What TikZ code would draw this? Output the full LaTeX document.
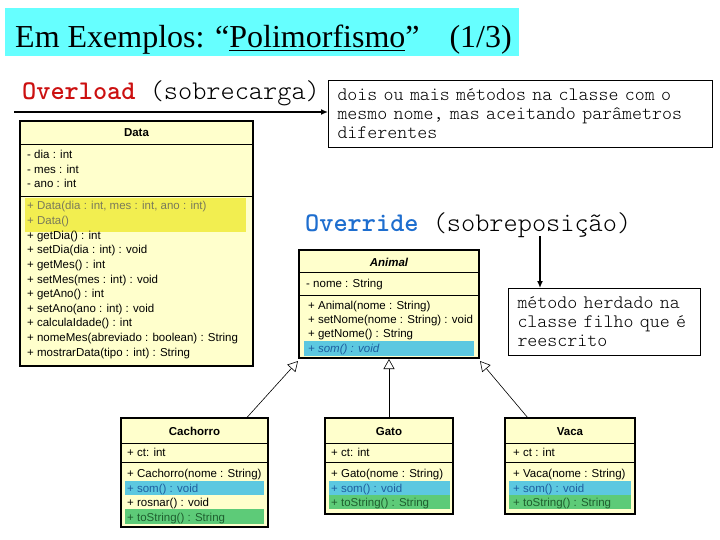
\documentclass[tikz,border=0pt]{standalone}
\usepackage{fontspec}
\setmainfont{Liberation Serif}
\newfontfamily\monof{Latin Modern Mono Light}
\newfontfamily\sansf{Liberation Sans}
\usetikzlibrary{arrows.meta}
\definecolor{titlecyan}{HTML}{66FFFF}
\definecolor{umlfill}{HTML}{FFFFCC}
\definecolor{hlyellow}{HTML}{F2EE50}
\definecolor{hlcyan}{HTML}{5CC8E0}
\definecolor{hlgreen}{HTML}{5DCB78}
\definecolor{ovred}{HTML}{CC1010}
\definecolor{ovblue}{HTML}{1E6ECF}
\definecolor{greytxt}{HTML}{7A7A5A}
\definecolor{bluetxt}{HTML}{1F5F9F}
\definecolor{greentxt}{HTML}{1F5F2F}
\tikzset{
  umlbox/.style={draw, line width=2pt, fill=umlfill, anchor=north west, inner sep=0pt, outer sep=0pt},
  umltxt/.style={anchor=base west, inner sep=0pt, font=\sansf\fontsize{11.5}{13}\selectfont},
  umlhead/.style={anchor=base, inner sep=0pt, font=\sansf\bfseries\fontsize{11.5}{13}\selectfont},
  sepline/.style={line width=0.8pt},
  notebox/.style={draw, line width=1pt, fill=white, anchor=north west, align=left, inner xsep=9pt, inner ysep=0pt, font=\monof\fontsize{19}{19}\selectfont},
  bigmono/.style={anchor=base west, inner sep=0pt, font=\monof\fontsize{27}{29}\selectfont},
  inh/.style={-{Triangle[open, length=10pt, width=11pt]}, line width=0.6pt},
  pointer/.style={-{Latex[length=7pt, width=6pt]}, line width=1.8pt}
}
\begin{document}
\begin{tikzpicture}[x=1pt, y=-1pt]
\useasboundingbox (0,0) rectangle (720,540);
\fill[white] (0,0) rectangle (720,540);

% Title
\node[fill=titlecyan, anchor=north west, minimum width=514pt, minimum height=48pt, inner sep=0pt] (titlebox) at (5,8) {};
\node[anchor=base west, inner sep=0pt, font=\fontsize{32}{35}\selectfont] (title) at (15,48) {Em Exemplos: “\underline{Polimorfismo}”\hspace*{30pt}(1/3)};

% Overload
\node[bigmono] (overload) at (22,100) {\textcolor{ovred}{\bfseries Overload} (sobrecarga)};
\node[notebox, minimum width=384pt, minimum height=67pt, text width=366pt] (note1) at (328,80) {dois ou mais métodos na classe com o\\mesmo nome, mas aceitando parâmetros\\diferentes};
\coordinate (ovstart) at (14,112);
\draw[pointer] (ovstart) -- (ovstart -| note1.west);

% Override
\node[bigmono] (override) at (305,232) {\textcolor{ovblue}{\bfseries Override} (sobreposição)};
\node[notebox, minimum width=192pt, minimum height=67pt, text width=174pt] (note2) at (508,288) {método herdado na\\classe filho que é\\reescrito};
\coordinate (ovrstart) at (540,236);
\draw[pointer] (ovrstart) -- (ovrstart |- note2.north);

% Data class
\node[umlbox, minimum width=233pt, minimum height=245pt] (data) at (20,121) {};
\fill[hlyellow] (25,198) rectangle (246,232);
\draw[sepline] (20,144) -- (253,144);
\draw[sepline] (20,196) -- (253,196);
\node[umlhead] (dataH) at (136.5,137) {Data};
\node[umltxt] (da1) at (27,159) {- dia : int};
\node[umltxt] (da2) at (27,174) {- mes : int};
\node[umltxt] (da3) at (27,188) {- ano : int};
\node[umltxt, text=greytxt] (dm0) at (27,210) {+ Data(dia : int, mes : int, ano : int)};
\node[umltxt, text=greytxt] (dm1) at (27,224.6) {+ Data()};
\node[umltxt] (dm2) at (27,239.2) {+ getDia() : int};
\node[umltxt] (dm3) at (27,253.8) {+ setDia(dia : int) : void};
\node[umltxt] (dm4) at (27,268.4) {+ getMes() : int};
\node[umltxt] (dm5) at (27,283) {+ setMes(mes : int) : void};
\node[umltxt] (dm6) at (27,297.6) {+ getAno() : int};
\node[umltxt] (dm7) at (27,312.2) {+ setAno(ano : int) : void};
\node[umltxt] (dm8) at (27,326.8) {+ calculaIdade() : int};
\node[umltxt] (dm9) at (27,341.4) {+ nomeMes(abreviado : boolean) : String};
\node[umltxt] (dm10) at (27,356) {+ mostrarData(tipo : int) : String};

% Animal class
\node[umlbox, minimum width=180pt, minimum height=108pt] (animal) at (299,250) {};
\fill[hlcyan] (304,341) rectangle (474,356);
\draw[sepline] (299,272) -- (479,272);
\draw[sepline] (299,295) -- (479,295);
\node[umlhead, font=\sansf\bfseries\itshape\fontsize{11.5}{13}\selectfont] (animalH) at (389,266) {Animal};
\node[umltxt] (an1) at (306,287) {- nome : String};
\node[umltxt] (am1) at (308,309) {+ Animal(nome : String)};
\node[umltxt] (am2) at (308,323) {+ setNome(nome : String) : void};
\node[umltxt] (am3) at (308,337) {+ getNome() : String};
\node[umltxt, text=bluetxt, font=\sansf\itshape\fontsize{11.5}{13}\selectfont] (am4) at (308,352) {+ som() : void};

% Cachorro class
\node[umlbox, minimum width=147pt, minimum height=109pt] (cachorro) at (121,418) {};
\fill[hlcyan] (125,481) rectangle (264,495);
\fill[hlgreen] (125,509) rectangle (264,524);
\draw[sepline] (121,443) -- (268,443);
\draw[sepline] (121,462) -- (268,462);
\node[umlhead] (cachorroH) at (194.5,435) {Cachorro};
\node[umltxt] (ca1) at (127,456) {+ ct: int};
\node[umltxt] (cm1) at (127,477) {+ Cachorro(nome : String)};
\node[umltxt, text=bluetxt] (cm2) at (127,492) {+ som() : void};
\node[umltxt] (cm3) at (127,506) {+ rosnar() : void};
\node[umltxt, text=greentxt] (cm4) at (127,521) {+ toString() : String};

% Gato class
\node[umlbox, minimum width=128pt, minimum height=96pt] (gato) at (325,418) {};
\fill[hlcyan] (329,481) rectangle (450,495);
\fill[hlgreen] (329,495) rectangle (450,509);
\draw[sepline] (325,443) -- (453,443);
\draw[sepline] (325,462) -- (453,462);
\node[umlhead] (gatoH) at (389,435) {Gato};
\node[umltxt] (ga1) at (331,456) {+ ct: int};
\node[umltxt] (gm1) at (331,477) {+ Gato(nome : String)};
\node[umltxt, text=bluetxt] (gm2) at (331,492) {+ som() : void};
\node[umltxt, text=greentxt] (gm3) at (331,506) {+ toString() : String};

% Vaca class
\node[umlbox, minimum width=130pt, minimum height=96pt] (vaca) at (505,418) {};
\fill[hlcyan] (509,481) rectangle (631,495);
\fill[hlgreen] (509,495) rectangle (631,509);
\draw[sepline] (505,443) -- (635,443);
\draw[sepline] (505,462) -- (635,462);
\node[umlhead] (vacaH) at (570,435) {Vaca};
\node[umltxt] (va1) at (513,456) {+ ct : int};
\node[umltxt] (vm1) at (513,477) {+ Vaca(nome : String)};
\node[umltxt, text=bluetxt] (vm2) at (513,492) {+ som() : void};
\node[umltxt, text=greentxt] (vm3) at (513,506) {+ toString() : String};

% Inheritance
\draw[inh] ([xshift=52pt]cachorro.north) -- ([xshift=-1pt,yshift=-3pt]animal.south west);
\draw[inh] (gato.north) -- ([yshift=-1pt]animal.south);
\draw[inh] ([xshift=-42pt]vaca.north) -- ([xshift=1pt,yshift=-3pt]animal.south east);
\end{tikzpicture}
\end{document}
